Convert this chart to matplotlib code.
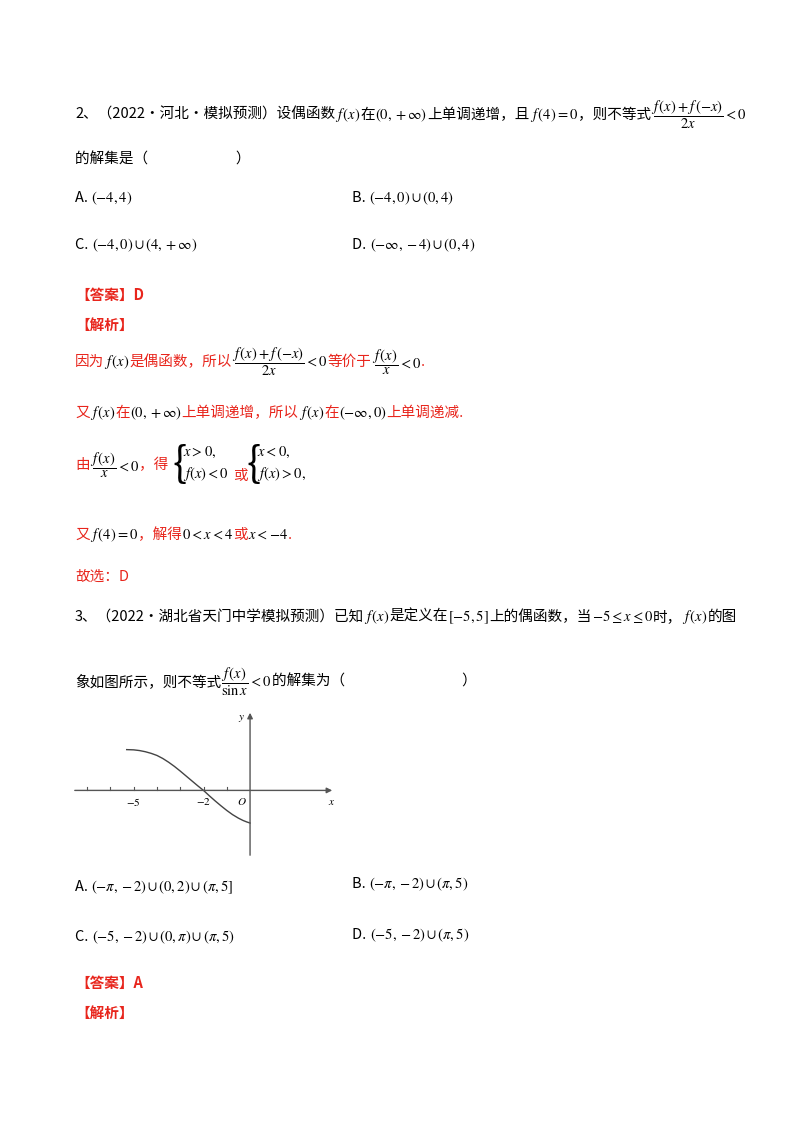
import matplotlib
matplotlib.use("Agg")
import matplotlib.pyplot as plt

plt.rcParams['font.family'] = ['Noto Sans CJK SC', 'DejaVu Sans']
plt.rcParams['mathtext.fontset'] = 'stix'

RED = '#e8251c'
K = 'black'

# curve
curve_x = [-5.3, -5.0, -4.75, -4.5, -4.25, -4.0, -3.75, -3.5, -3.25, -3.0, -2.75, -2.5, -2.25,
           -2.0, -1.75, -1.5, -1.25, -1.0, -0.75, -0.5, -0.3, -0.15, 0.0]
curve_y = [1.75, 1.74, 1.71, 1.66, 1.59, 1.50, 1.37, 1.21, 1.03, 0.83, 0.62, 0.41, 0.20,
           0.0, -0.23, -0.45, -0.66, -0.86, -1.04, -1.19, -1.29, -1.35, -1.40]
tick_x = [-8, -7, -6, -5, -4, -3, -2, -1]

W, H = 800, 1132
fig = plt.figure(figsize=(8, 11.32), dpi=100)
renderer = fig.canvas.get_renderer()


def line(x, y, parts, size=10.5):
    # place text segments one after another, y in pixels from top
    for text, color, *bold in parts:
        t = fig.text(x / W, 1 - y / H, text, color=color, fontsize=size, va='center',
                     fontweight='bold' if bold else 'normal')
        x += t.get_window_extent(renderer).width


frac1 = r'$\dfrac{f\,(x)+f\,(-x)}{2x}<0$'
line(75, 115, [('2、（2022·河北·模拟预测）设偶函数', K), (r'$f\,(x)$', K), ('在', K),
               (r'$(0,+\infty)$', K), ('上单调递增，且', K), (r'$f\,(4)=0$', K),
               ('，则不等式', K), (frac1, K)])
line(75, 160, [('的解集是（　　　　　　）', K)])
line(75, 198, [('A. ', K), (r'$(-4,4)$', K)])
line(352, 198, [('B. ', K), (r'$(-4,0)\cup(0,4)$', K)])
line(75, 245, [('C. ', K), (r'$(-4,0)\cup(4,+\infty)$', K)])
line(352, 245, [('D. ', K), (r'$(-\infty,-4)\cup(0,4)$', K)])
line(75, 295, [('【答案】D', RED, 1)])
line(75, 325, [('【解析】', RED, 1)])
line(75, 362, [('因为', RED), (r'$f\,(x)$', K), ('是偶函数，所以', RED), (frac1, K),
               ('等价于', RED), (r'$\dfrac{f\,(x)}{x}<0$', K), ('.', RED)])
line(75, 413, [('又', RED), (r'$f\,(x)$', K), ('在', RED), (r'$(0,+\infty)$', K),
               ('上单调递增，所以', RED), (r'$f\,(x)$', K), ('在', RED),
               (r'$(-\infty,0)$', K), ('上单调递减.', RED)])
line(75, 465, [('由', RED), (r'$\dfrac{f\,(x)}{x}<0$', K), ('，得', RED)])
fig.text(172 / W, 1 - 465 / H, '{', fontsize=30, va='center', fontweight='light')
fig.text(183 / W, 1 - 452 / H, r'$x>0,$', fontsize=10.5, va='center')
fig.text(183 / W, 1 - 474 / H, r'$f(x)<0$', fontsize=10.5, va='center')
line(233, 476, [('或', RED)])
fig.text(246 / W, 1 - 465 / H, '{', fontsize=30, va='center', fontweight='light')
fig.text(257 / W, 1 - 452 / H, r'$x<0,$', fontsize=10.5, va='center')
fig.text(257 / W, 1 - 474 / H, r'$f(x)>0,$', fontsize=10.5, va='center')
line(75, 535, [('又', RED), (r'$f\,(4)=0$', K), ('，解得', RED), (r'$0<x<4$', K),
               ('或', RED), (r'$x<-4$', K), ('.', RED)])
line(75, 577, [('故选：D', RED)])
line(75, 617, [('3、（2022·湖北省天门中学模拟预测）已知', K), (r'$f\,(x)$', K),
               ('是定义在', K), (r'$[-5,5]$', K), ('上的偶函数，当', K),
               (r'$-5\leq x\leq 0$', K), ('时，', K), (r'$f\,(x)$', K), ('的图', K)])
line(75, 682, [('象如图所示，则不等式', K), (r'$\dfrac{f\,(x)}{\sin x}<0$', K),
               ('的解集为（　　　　　　　　）', K)])

# the small graph (about 23 px per unit)
ax = fig.add_axes([72 / W, 1 - 858 / H, 263 / W, 148 / H])
ax.set_xlim(-7.65, 3.65)
ax.set_ylim(-2.9, 3.45)
ax.axis('off')
ax.plot(curve_x, curve_y, color='#444444', lw=1)
ax.annotate('', xy=(3.65, 0), xytext=(-7.65, 0),
            arrowprops=dict(arrowstyle='-|>', color='#555555', lw=1, mutation_scale=8))
ax.annotate('', xy=(0, 3.45), xytext=(0, -2.9),
            arrowprops=dict(arrowstyle='-|>', color='#555555', lw=1, mutation_scale=8))
for t in tick_x:
    ax.plot([t, t], [0, 0.15], color='#555555', lw=0.8)
ax.text(-5, -0.25, r'$-5$', ha='center', va='top', fontsize=8)
ax.text(-2, -0.25, r'$-2$', ha='center', va='top', fontsize=8)
ax.text(-0.15, -0.25, r'$O$', ha='right', va='top', fontsize=8)
ax.text(3.5, -0.3, r'$x$', ha='center', va='top', fontsize=8)
ax.text(-0.2, 3.3, r'$y$', ha='right', va='top', fontsize=8)

line(75, 887, [('A. ', K), (r'$(-\pi,-2)\cup(0,2)\cup(\pi,5]$', K)])
line(352, 884, [('B. ', K), (r'$(-\pi,-2)\cup(\pi,5)$', K)])
line(75, 937, [('C. ', K), (r'$(-5,-2)\cup(0,\pi)\cup(\pi,5)$', K)])
line(352, 935, [('D. ', K), (r'$(-5,-2)\cup(\pi,5)$', K)])
line(75, 983, [('【答案】A', RED, 1)])
line(75, 1013, [('【解析】', RED, 1)])

fig.savefig('out.png', dpi=100)
